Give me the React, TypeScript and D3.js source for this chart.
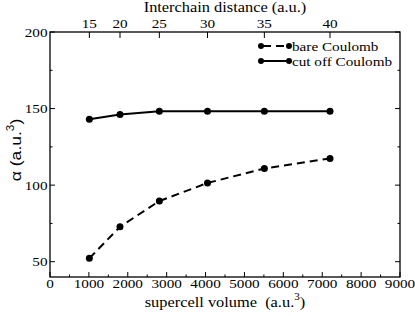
import React from 'react';
import * as d3 from 'd3';

// interchain distances (a.u.) and the supercell volume of each one
const distances = [15, 20, 25, 30, 35, 40];
const volumes = [1012, 1800, 2812, 4050, 5512, 7200];
const bareCoulomb = [52.2, 72.8, 89.6, 101.4, 110.9, 117.4];
const cutOffCoulomb = [143, 146.1, 148.2, 148.2, 148.2, 148.2];

const xTicks = [0, 1000, 2000, 3000, 4000, 5000, 6000, 7000, 8000, 9000];
const xMinor = [500, 1500, 2500, 3500, 4500, 5500, 6500, 7500, 8500];
const yTicks = [50, 100, 150, 200];
const yMinor = [75, 125, 175];

const W = 415;
const H = 316;
const L = 50, R = 400, T = 32, B = 277;

const SERIF = "'Liberation Serif', 'DejaVu Serif', 'Times New Roman', serif";
const SANS = "'Liberation Sans', 'DejaVu Sans', Arial, sans-serif";
const STRETCH = 1.17; // the reference's glyphs are a bit wide

// text drawn at (x, y), stretched sideways like the original
const Txt = ({ x, y, size, anchor = 'start', family = SERIF, rotate = 0, children }: any) => (
  <text
    transform={`translate(${x},${y}) rotate(${rotate}) scale(${STRETCH},1)`}
    fontSize={size}
    fontFamily={family}
    textAnchor={anchor}
  >
    {children}
  </text>
);

const App = () => {
  const x = d3.scaleLinear().domain([0, 9000]).range([L, R]);
  const y = d3.scaleLinear().domain([40, 200]).range([B, T]);
  const line = d3
    .line<number>()
    .x((d, i) => x(volumes[i]))
    .y((d) => y(d));

  return (
    <svg
      width={W}
      height={H}
      style={{ position: 'absolute', left: 0, top: 0, background: '#fff' }}
    >
      <rect x={L} y={T} width={R - L} height={B - T} fill="none" stroke="#000" strokeWidth={1.3} />

      {/* bottom axis */}
      {xTicks.map((t) => (
        <g key={'x' + t}>
          <line x1={x(t)} x2={x(t)} y1={B} y2={B - 5} stroke="#000" />
          <Txt x={x(t)} y={288} size={13} anchor="middle">{t}</Txt>
        </g>
      ))}
      {xMinor.map((t) => (
        <line key={'xm' + t} x1={x(t)} x2={x(t)} y1={B} y2={B - 2.5} stroke="#000" />
      ))}
      <Txt x={x(4500)} y={307} size={14} anchor="middle">
        supercell volume{'\u00a0'} (a.u.<tspan dy={-7} fontSize={9.5}>3</tspan><tspan dy={7}>)</tspan>
      </Txt>

      {/* top axis: interchain distance */}
      {distances.map((d, i) => (
        <g key={'t' + d}>
          <line x1={x(volumes[i])} x2={x(volumes[i])} y1={T} y2={T + 6} stroke="#000" />
          <Txt x={x(volumes[i])} y={28.3} size={13} anchor="middle">{d}</Txt>
        </g>
      ))}
      <Txt x={225} y={12.3} size={14} anchor="middle">Interchain distance (a.u.)</Txt>

      {/* left and right axes */}
      {yTicks.map((t) => (
        <g key={'y' + t}>
          <line x1={L} x2={L + 5} y1={y(t)} y2={y(t)} stroke="#000" />
          <line x1={R} x2={R - 5} y1={y(t)} y2={y(t)} stroke="#000" />
          <Txt x={47.5} y={y(t) + 4.5} size={13} anchor="end">{t}</Txt>
        </g>
      ))}
      {yMinor.map((t) => (
        <g key={'ym' + t}>
          <line x1={L} x2={L + 2.5} y1={y(t)} y2={y(t)} stroke="#000" />
          <line x1={R} x2={R - 2.5} y1={y(t)} y2={y(t)} stroke="#000" />
        </g>
      ))}
      <Txt x={21} y={150} size={15} anchor="middle" family={SANS} rotate={-90}>
        α (a.u.<tspan dy={-7} fontSize={10}>3</tspan><tspan dy={7}>)</tspan>
      </Txt>

      {/* series */}
      <path d={line(bareCoulomb) || ''} fill="none" stroke="#000" strokeWidth={2} strokeDasharray="8,5" />
      <path d={line(cutOffCoulomb) || ''} fill="none" stroke="#000" strokeWidth={2} />
      {bareCoulomb.map((v, i) => (
        <circle key={'b' + i} cx={x(volumes[i])} cy={y(v)} r={3.5} fill="#000" />
      ))}
      {cutOffCoulomb.map((v, i) => (
        <circle key={'c' + i} cx={x(volumes[i])} cy={y(v)} r={3.5} fill="#000" />
      ))}

      {/* legend */}
      <g>
        <line x1={261} x2={289} y1={46} y2={46} stroke="#000" strokeWidth={2} strokeDasharray="8,5" strokeDashoffset={-2} />
        <circle cx={261} cy={46} r={3} />
        <circle cx={289} cy={46} r={3} />
        <Txt x={292} y={51} size={13}>bare Coulomb</Txt>
        <line x1={261} x2={289} y1={61} y2={61} stroke="#000" strokeWidth={2} />
        <circle cx={261} cy={61} r={3} />
        <circle cx={289} cy={61} r={3} />
        <Txt x={292} y={66} size={13}>cut off Coulomb</Txt>
      </g>
    </svg>
  );
};

export default App;
